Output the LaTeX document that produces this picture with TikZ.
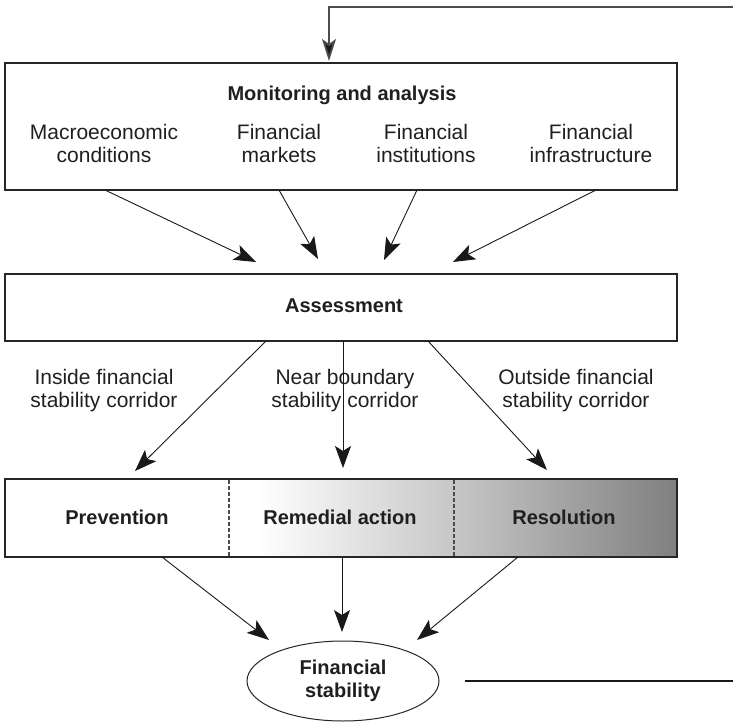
\documentclass[tikz,border=0pt]{standalone}
\usepackage{fontspec}
\setmainfont{Liberation Sans}
\usetikzlibrary{arrows.meta,shapes.geometric,calc}
\pgfdeclarehorizontalshading{bandshade}{100bp}{color(0bp)=(white); color(28.2bp)=(white); color(50bp)=(black!22); color(75bp)=(black!50); color(100bp)=(black!50)}
\tikzset{
  box/.style={draw=black!85, line width=1.3pt, rectangle, inner sep=0pt},
  reg/.style={font=\fontsize{21}{23}\selectfont, align=center, inner sep=0pt, text=black!88},
  bld/.style={font=\fontsize{20}{23}\selectfont\bfseries, align=center, inner sep=0pt, text=black!88},
  arr/.style={draw=black!90, line width=0.9pt, -{Stealth[length=22pt,width=16pt,inset=5pt]}},
  fb/.style={draw=black!70, line width=1.8pt, -{Stealth[length=22pt,width=14pt,inset=5pt,fill=black!90]}},
  divider/.style={draw=black!70, line width=1.2pt, dash pattern=on 3.5pt off 2.5pt}
}
\begin{document}
\begin{tikzpicture}[x=1pt,y=-1pt]
\useasboundingbox (0,0) rectangle (733,722);
% band shading
\fill[shading=bandshade] (229,479) rectangle (677,557);
% boxes
\node[box, minimum width=672pt, minimum height=127pt] (mon) at (341,126.5) {};
\node[box, minimum width=672pt, minimum height=67pt] (ass) at (341,307.5) {};
\node[box, minimum width=672pt, minimum height=78pt] (band) at (341,518) {};
\node[draw=black!85, line width=1pt, ellipse, minimum width=192pt, minimum height=80pt, inner sep=0pt] (fs) at (343,681) {};
% dividers
\draw[divider] (229,480) coordinate (d1t) -- (229,556) coordinate (d1b);
\draw[divider] (454,480) coordinate (d2t) -- (454,556) coordinate (d2b);
% texts
\node[bld] (montitle) at (342,95) {Monitoring and analysis};
\node[reg] (macro) at (104,143.5) {Macroeconomic\\conditions};
\node[reg] (markets) at (279,143.5) {Financial\\markets};
\node[reg] (inst) at (426,143.5) {Financial\\institutions};
\node[reg] (infra) at (591,143.5) {Financial\\infrastructure};
\node[bld] (asstext) at (344,306) {Assessment};
\node[reg] (lin) at (104,391) {Inside financial\\stability corridor};
\node[reg] (lnear) at (345,391) {Near boundary\\stability corridor};
\node[reg] (lout) at (576,391) {Outside financial\\stability corridor};
\node[bld] (prev) at (117,517) {Prevention};
\node[bld] (remed) at (340,517) {Remedial action};
\node[bld] (resol) at (564,517) {Resolution};
\node[bld] (fstext) at (fs.center) {Financial\\stability};
% coordinates
\coordinate (m1s) at (105,190); \coordinate (m1t) at (256,262);
\coordinate (m2s) at (279,190); \coordinate (m2t) at (318,259);
\coordinate (m3s) at (417,190); \coordinate (m3t) at (384,260);
\coordinate (m4s) at (596,190); \coordinate (m4t) at (453,262);
\coordinate (a1s) at (266,341); \coordinate (a1t) at (135,471);
\coordinate (a2s) at (343,341); \coordinate (a2t) at (343,468);
\coordinate (a3s) at (428,341); \coordinate (a3t) at (547,470);
\coordinate (b1s) at (162,557); \coordinate (b1t) at (269,640);
\coordinate (b2s) at (342,557); \coordinate (b2t) at (342,632);
\coordinate (b3s) at (518,557); \coordinate (b3t) at (417,640);
\coordinate (fbtop) at (733,7);
\coordinate (monin) at (329,61);
\coordinate (fbbot) at (733,681);
% arrows
\draw[arr] (m1s) -- (m1t);
\draw[arr] (m2s) -- (m2t);
\draw[arr] (m3s) -- (m3t);
\draw[arr] (m4s) -- (m4t);
\draw[arr] (a1s) -- (a1t);
\draw[arr] (a2s) -- (a2t);
\draw[arr] (a3s) -- (a3t);
\draw[arr] (b1s) -- (b1t);
\draw[arr] (b2s) -- (b2t);
\draw[arr] (b3s) -- (b3t);
\draw[fb] (fbtop) -| (monin);
\draw[draw=black!90, line width=1.2pt] ([xshift=25pt]fs.east) -- (fbbot);
\end{tikzpicture}
\end{document}
